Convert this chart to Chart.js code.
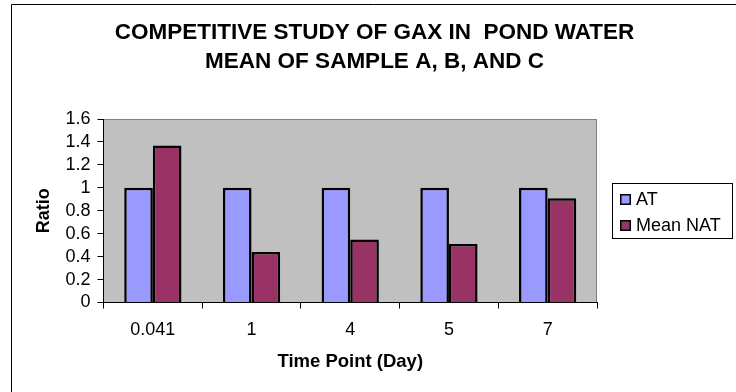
<!DOCTYPE html>
<html>
<head>
<meta charset="utf-8">
<script src="https://cdn.jsdelivr.net/npm/chart.js@4/dist/chart.umd.min.js"></script>
<style>
  html, body { margin: 0; padding: 0; background: #ffffff; }
  #wrap { width: 736px; height: 392px; position: relative; }
</style>
</head>
<body>
<div id="wrap"><canvas id="c" width="736" height="392"></canvas></div>
<script>
// Time points (days) and mean ratios per series
const categories = ['0.041', '1', '4', '5', '7'];
const atValues = [1, 1, 1, 1, 1];
const meanNatValues = [1.37, 0.44, 0.55, 0.51, 0.91];
const yTickValues = [0, 0.2, 0.4, 0.6, 0.8, 1, 1.2, 1.4, 1.6];
const seriesLabels = ['AT', 'Mean NAT'];
const titleLines = ['COMPETITIVE STUDY OF GAX IN  POND WATER', 'MEAN OF SAMPLE A, B, AND C'];

const FONT = "'Liberation Sans', Arial, sans-serif";

// Outer frame, two-line title, plot background/border and boxed legend
const decorations = {
  id: 'decorations',
  beforeDraw(chart) {
    const { ctx, chartArea: a } = chart;
    ctx.save();
    ctx.fillStyle = '#ffffff';
    ctx.fillRect(0, 0, chart.width, chart.height);
    ctx.fillStyle = '#c0c0c0';
    ctx.fillRect(a.left, a.top, a.right - a.left, a.bottom - a.top);
    ctx.strokeStyle = '#808080';
    ctx.lineWidth = 1;
    ctx.beginPath();
    ctx.moveTo(a.left, a.top + 0.5);
    ctx.lineTo(a.right - 0.5, a.top + 0.5);
    ctx.lineTo(a.right - 0.5, a.bottom);
    ctx.stroke();
    // chart frame
    ctx.strokeStyle = '#000000';
    ctx.beginPath();
    ctx.moveTo(11.5, chart.height);
    ctx.lineTo(11.5, 4.5);
    ctx.lineTo(chart.width, 4.5);
    ctx.stroke();
    // title
    ctx.fillStyle = '#000000';
    ctx.font = 'bold 22.5px ' + FONT;
    ctx.textAlign = 'center';
    ctx.textBaseline = 'middle';
    titleLines.forEach((t, i) => ctx.fillText(t, 374.5, 33 + i * 28.5));
    ctx.restore();
  },
  afterDraw(chart) {
    const { ctx } = chart;
    ctx.save();
    const bx = 612, by = 183, bw = 121, bh = 56;
    ctx.fillStyle = '#ffffff';
    ctx.fillRect(bx, by, bw, bh);
    ctx.strokeStyle = '#000000';
    ctx.lineWidth = 1;
    ctx.strokeRect(bx + 0.5, by + 0.5, bw - 1, bh - 1);
    ctx.font = '18px ' + FONT;
    ctx.textAlign = 'left';
    ctx.textBaseline = 'middle';
    chart.data.datasets.forEach((ds, i) => {
      const cy = 199 + i * 26;
      ctx.fillStyle = ds.backgroundColor;
      ctx.fillRect(620, cy - 5, 11, 11);
      ctx.strokeStyle = '#000000';
      ctx.lineWidth = 1.5;
      ctx.strokeRect(620.75, cy - 4.25, 9.5, 9.5);
      ctx.fillStyle = '#000000';
      ctx.fillText(ds.label, 636, cy + 1);
    });
    ctx.restore();
  }
};

new Chart(document.getElementById('c'), {
  type: 'bar',
  data: {
    labels: categories,
    datasets: [
      { label: seriesLabels[0], data: atValues, backgroundColor: '#9999ff', borderColor: '#000000', borderWidth: 2.5 },
      { label: seriesLabels[1], data: meanNatValues, backgroundColor: '#993366', borderColor: '#000000', borderWidth: 2.5 }
    ]
  },
  options: {
    responsive: false,
    animation: false,
    layout: { padding: { left: 33, right: 139, top: 119, bottom: 19 } },
    datasets: { bar: { categoryPercentage: 0.58, barPercentage: 1 } },
    plugins: {
      legend: { display: false },
      title: { display: false },
      tooltip: { enabled: false }
    },
    scales: {
      x: {
        grid: { display: true, drawOnChartArea: false, drawTicks: true, tickLength: 6, color: '#000000', offset: true },
        border: { display: true, color: '#000000', width: 1 },
        ticks: { color: '#000000', font: { family: FONT, size: 18 }, padding: 10.5, maxRotation: 0 },
        title: { display: true, text: 'Time Point (Day)', color: '#000000', font: { family: FONT, size: 18.5, weight: 'bold' }, padding: 0 },
        afterFit(s) { s.height = 70.5; }
      },
      y: {
        min: 0,
        max: 1.6,
        afterBuildTicks(s) { s.ticks = yTickValues.map(v => ({ value: v })); },
        grid: { display: true, drawOnChartArea: false, drawTicks: true, tickLength: 6, color: '#000000' },
        border: { display: true, color: '#000000', width: 1 },
        ticks: { color: '#000000', font: { family: FONT, size: 18 }, padding: 7, autoSkip: false, callback: v => String(+v.toFixed(1)) },
        title: { display: true, text: 'Ratio', color: '#000000', font: { family: FONT, size: 18, weight: 'bold' }, padding: 0 },
        afterFit(s) { s.width = 70.5; }
      }
    }
  },
  plugins: [decorations]
});
</script>
</body>
</html>
